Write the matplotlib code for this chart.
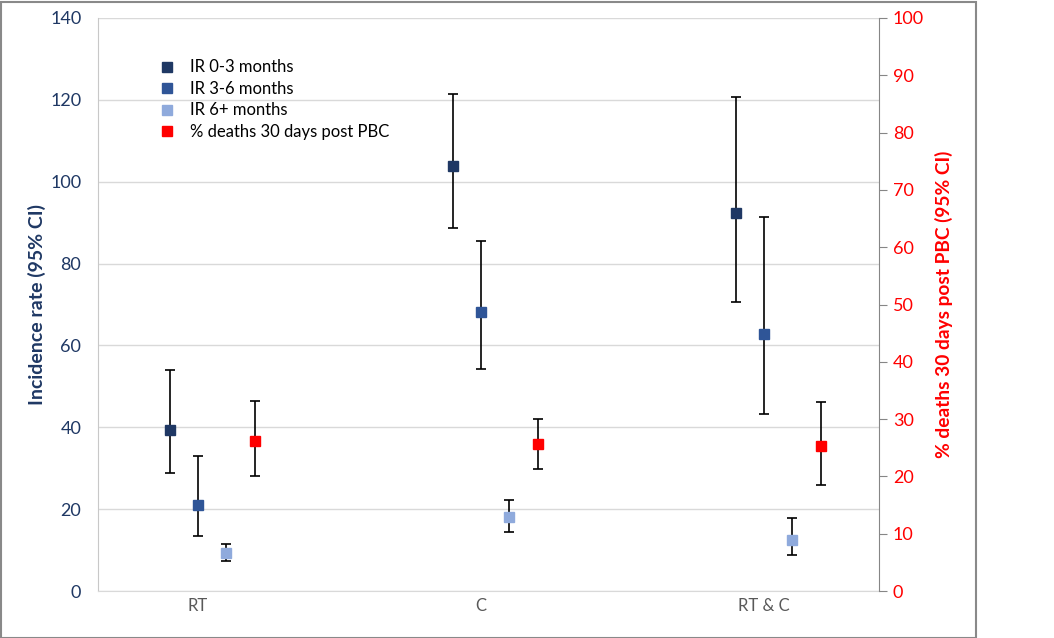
import numpy as np
import matplotlib
matplotlib.use("Agg")
import matplotlib.pyplot as plt
from matplotlib.lines import Line2D
from matplotlib.patches import Rectangle

plt.rcParams['font.family'] = ['Lato', 'DejaVu Sans']

# data
categories = ['RT', 'C', 'RT & C']

ir_03 = [39.4, 103.8, 92.3]
ir_03_lo = [28.9, 88.8, 70.6]
ir_03_hi = [53.9, 121.4, 120.8]

ir_36 = [21.0, 68.2, 62.8]
ir_36_lo = [13.5, 54.3, 43.2]
ir_36_hi = [33.0, 85.5, 91.4]

ir_6p = [9.3, 18.0, 12.4]
ir_6p_lo = [7.4, 14.3, 8.8]
ir_6p_hi = [11.6, 22.3, 17.8]

deaths = [26.1, 25.6, 25.3]
deaths_lo = [20.0, 21.3, 18.5]
deaths_hi = [33.1, 30.1, 32.9]

navy = '#1F3864'
mid = '#2F5597'
light = '#8FAADC'
red = '#FF0000'
grid_c = '#D9D9D9'

fig = plt.figure(figsize=(10.54, 6.38), dpi=100)
ax = fig.add_axes([98 / 1054, 1 - 591 / 638, (879 - 98) / 1054, (591 - 18) / 638])
ax2 = ax.twinx()

x = np.arange(len(categories))
step = 0.1


def draw(a, xs, vals, lo, hi, color):
    vals = np.array(vals)
    err = [vals - np.array(lo), np.array(hi) - vals]
    a.errorbar(xs, vals, yerr=err, fmt='s', color=color, ms=7.5, mec=color,
               ecolor='black', elinewidth=1.2, capsize=3.5, capthick=1.2, zorder=3)


draw(ax, x - step, ir_03, ir_03_lo, ir_03_hi, navy)
draw(ax, x, ir_36, ir_36_lo, ir_36_hi, mid)
draw(ax, x + step, ir_6p, ir_6p_lo, ir_6p_hi, light)
draw(ax2, x + 2 * step, deaths, deaths_lo, deaths_hi, red)

ax.set_xlim(-0.353, 2.406)
ax.set_ylim(0, 140)
ax.set_yticks(range(0, 141, 20))
ax2.set_ylim(0, 100)
ax2.set_yticks(range(0, 101, 10))

ax.set_xticks(x)
ax.set_xticklabels(categories, color='#595959', fontsize=12)
ax.tick_params(axis='x', length=0, pad=5)
ax.tick_params(axis='y', length=0, pad=12, labelcolor=navy, labelsize=13)
ax.yaxis.grid(True, color=grid_c, lw=1)
ax.set_axisbelow(True)

for s in ['top', 'right']:
    ax.spines[s].set_visible(False)
ax.spines['left'].set_color('#C8C8C8')
ax.spines['bottom'].set_color(grid_c)

for s in ['top', 'left', 'bottom']:
    ax2.spines[s].set_visible(False)
ax2.spines['right'].set_color('#868686')
ax2.tick_params(axis='y', direction='out', length=6, color='#868686',
                labelcolor=red, labelsize=13, pad=4)

ax.set_ylabel('Incidence rate (95% CI)', color=navy, fontsize=14,
              fontweight='bold', labelpad=3)
ax2.set_ylabel('% deaths 30 days post PBC (95% CI)', color=red, fontsize=13.8,
               fontweight='bold', labelpad=8)

handles = [Line2D([], [], ls='none', marker='s', ms=7, color=c)
           for c in [navy, mid, light, red]]
labels = ['IR 0-3 months', 'IR 3-6 months', 'IR 6+ months', '% deaths 30 days post PBC']
ax.legend(handles, labels, loc='upper left', bbox_to_anchor=(150 / 1054, 1 - 51 / 638),
          bbox_transform=fig.transFigure, frameon=False, fontsize=12,
          handlelength=1.0, handletextpad=0.9, labelspacing=0.33, borderpad=0)

fig.patches.append(Rectangle((1 / 1054, 0.5 / 638), 975 / 1054, 636 / 638,
                             transform=fig.transFigure, fill=False,
                             edgecolor='#898989', lw=1.5))

fig.savefig('out.png', dpi=100)
